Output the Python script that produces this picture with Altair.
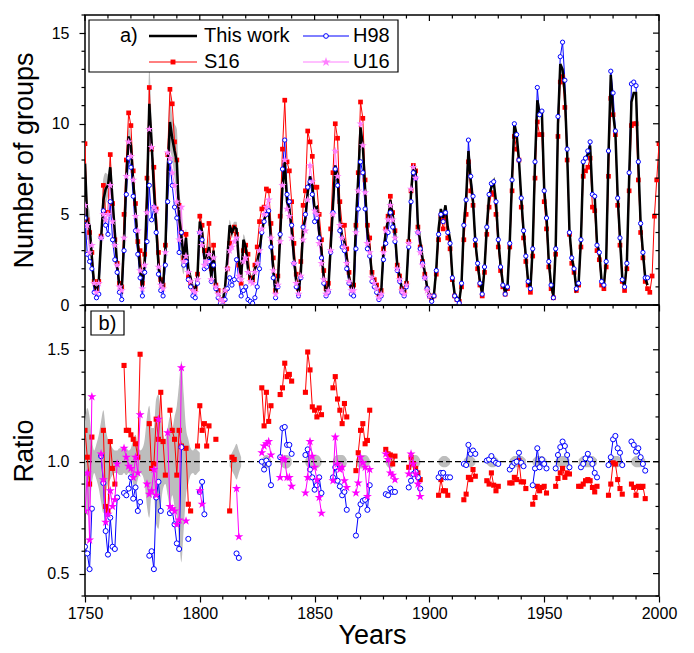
import altair as alt
import pandas as pd

FONT = "Liberation Sans"
W, H1, H2 = 574, 290, 291

# ---------------- data (annual values) ----------------
# "This work" group numbers, 1750-1995
tw_vals = [
    7.8, 4.6, 4.4, 2.6, 1.1, 0.8, 1.3, 3.6, 5.8, 6.4,
    6.6, 7.6, 5.8, 4.0, 2.2, 1.0, 0.8, 3.5, 7.0, 9.3,
    8.8, 6.8, 5.2, 3.4, 2.0, 1.0, 2.4, 6.0, 11.1, 9.0,
    6.4, 4.4, 2.2, 1.2, 1.0, 3.0, 7.4, 10.1, 9.2, 8.5,
    7.9, 4.8, 3.8, 2.5, 3.7, 2.0, 1.5, 0.9, 0.8, 1.6,
    4.6, 4.0, 2.6, 2.6, 3.2, 1.5, 3.0, 1.0, 0.7, 0.3,
    0.2, 1.0, 2.6, 4.4, 4.0, 4.3, 4.2, 2.4, 1.5, 3.6,
    3.2, 2.0, 1.4, 1.3, 2.0, 2.4, 3.0, 4.0, 4.7, 5.0,
    5.3, 3.6, 2.0, 0.6, 1.2, 3.8, 6.5, 7.9, 5.7, 5.3,
    4.2, 2.6, 1.3, 0.7, 1.8, 4.2, 4.8, 6.2, 7.1, 6.6,
    5.3, 5.4, 4.0, 3.0, 1.5, 0.7, 0.9, 3.2, 5.5, 7.7,
    7.2, 4.6, 3.8, 3.5, 2.6, 1.5, 0.9, 0.9, 4.6, 7.0,
    9.8, 8.8, 6.4, 4.0, 3.0, 1.6, 1.3, 1.0, 0.5, 0.7,
    3.0, 4.0, 4.7, 5.8, 5.0, 4.0, 2.2, 1.6, 0.9, 0.7,
    1.2, 3.6, 6.2, 7.7, 7.4, 4.4, 3.5, 2.6, 1.8, 1.0,
    0.6, 0.3, 0.6, 2.0, 4.2, 5.3, 4.8, 5.5, 4.3, 3.6,
    1.6, 0.6, 0.4, 0.2, 1.2, 4.4, 5.9, 8.5, 6.9, 5.7,
    3.5, 2.3, 1.3, 0.6, 2.0, 4.3, 6.0, 6.5, 6.8, 5.7,
    3.6, 2.2, 1.2, 0.7, 1.0, 3.5, 7.0, 10.0, 9.4, 8.0,
    5.9, 4.1, 2.7, 1.3, 0.9, 3.2, 7.9, 11.3, 10.6, 10.6,
    6.4, 4.9, 2.4, 1.1, 0.5, 3.1, 10.0, 13.3, 13.0, 11.6,
    8.4, 4.1, 2.6, 2.0, 0.9, 1.2, 3.6, 7.9, 8.1, 8.3,
    8.8, 6.1, 6.0, 3.4, 2.9, 1.3, 1.1, 2.5, 8.3, 12.7,
    10.6, 9.5, 6.0, 3.7, 1.5, 1.0, 2.3, 7.0, 11.2, 11.7,
    11.7, 7.8, 4.5, 2.9, 1.5, 1.1,
]
# uncertainty of "This work", 1750-1830
tw_err_vals = [
    1.2, 1.0, 0.8, 0.3, 0.1, 0.1, 0.2, 0.6, 1.2, 0.9,
    0.6, 0.6, 0.4, 0.3, 0.2, 0.1, 0.1, 0.2, 0.4, 0.5,
    0.5, 0.7, 0.6, 0.3, 0.1, 0.1, 0.2, 1.0, 2.0, 1.3,
    0.9, 1.2, 0.7, 0.3, 0.1, 0.3, 1.0, 1.6, 1.2, 1.5,
    1.8, 1.5, 1.6, 0.8, 0.5, 0.2, 0.1, 0.1, 0.1, 0.2,
    0.5, 0.6, 0.5, 0.5, 0.5, 0.4, 0.5, 0.3, 0.2, 0.1,
    0.1, 0.2, 0.3, 0.3, 0.3, 0.3, 0.4, 0.3, 0.2, 0.3,
    0.3, 0.2, 0.1, 0.1, 0.2, 0.2, 0.2, 0.2, 0.2, 0.2,
    0.2,
]
# H98, 1750-1995
h98_vals = [
    4.8, 2.8, 2.4, 2.0, 0.7, 0.4, 0.6, 3.7, 5.2, 4.4,
    3.9, 5.7, 3.6, 2.5, 1.8, 0.7, 0.3, 3.0, 6.1, 8.1,
    7.6, 6.0, 4.1, 2.8, 1.5, 0.5, 1.8, 3.5, 6.6, 4.7,
    5.4, 4.0, 1.7, 0.8, 0.5, 2.2, 5.7, 7.9, 6.6, 5.4,
    4.8, 2.9, 4.0, 2.2, 2.4, 1.4, 1.0, 0.5, 0.4, 1.2,
    4.0, 3.6, 2.0, 2.1, 2.4, 1.3, 2.2, 0.9, 0.4, 0.1,
    0.0, 0.3, 0.9, 1.5, 1.1, 1.4, 2.5, 1.4, 0.5, 0.8,
    1.0, 0.3, 0.2, 0.1, 0.4, 1.0, 2.0, 4.0, 4.6, 5.0,
    5.2, 3.2, 1.5, 0.4, 1.0, 3.9, 7.5, 9.1, 6.1, 5.7,
    4.4, 2.3, 1.0, 0.5, 1.5, 4.3, 5.0, 6.5, 6.8, 6.1,
    4.6, 4.8, 3.7, 2.6, 1.2, 0.5, 0.7, 2.9, 5.1, 7.5,
    6.6, 4.1, 3.2, 3.0, 2.0, 1.2, 0.6, 0.5, 3.1, 5.3,
    7.9, 7.3, 5.3, 3.1, 2.7, 1.3, 1.0, 0.7, 0.3, 0.5,
    2.5, 3.4, 4.0, 5.1, 4.3, 3.5, 1.9, 1.3, 0.7, 0.5,
    1.0, 3.2, 5.7, 7.3, 7.0, 4.0, 3.1, 2.3, 1.5, 0.9,
    0.5, 0.2, 0.5, 1.9, 3.9, 5.0, 4.6, 5.1, 4.0, 3.4,
    1.5, 0.5, 0.3, 0.1, 1.2, 4.4, 5.8, 9.1, 7.1, 6.0,
    3.6, 2.3, 1.2, 0.6, 2.1, 4.3, 6.1, 6.7, 6.8, 5.7,
    3.6, 2.1, 1.1, 0.6, 1.0, 3.4, 6.9, 10.0, 9.4, 8.0,
    5.9, 4.1, 2.7, 1.3, 0.9, 3.1, 7.9, 12.0, 10.5, 10.7,
    6.3, 4.8, 2.4, 1.1, 0.4, 3.1, 10.4, 13.7, 14.5, 12.4,
    8.6, 4.0, 2.6, 2.0, 0.9, 1.2, 3.6, 7.9, 8.1, 8.5,
    9.0, 6.1, 6.0, 3.3, 2.9, 1.3, 1.1, 2.4, 8.5, 12.9,
    11.7, 9.6, 5.9, 3.7, 1.4, 1.0, 2.3, 7.3, 12.2, 12.3,
    12.1, 7.9, 4.5, 2.9, 1.5, 1.5,
]
# S16, 1750-2000
s16_vals = [
    8.9, 4.7, 4.0, 2.9, 1.3, 0.9, 1.3, 3.8, 6.6, 5.1,
    5.1, 8.3, 5.6, 3.6, 2.3, 1.2, 1.0, 5.0, 8.0, 10.6,
    9.9, 7.4, 5.6, 3.5, 3.0, 1.2, 2.8, 7.0, 12.0, 8.6,
    7.6, 5.3, 2.9, 1.4, 1.1, 3.3, 8.3, 11.9, 11.1, 9.0,
    8.0, 5.5, 4.0, 2.6, 3.9, 1.6, 1.2, 0.9, 0.9, 1.7,
    4.9, 4.4, 3.0, 3.0, 4.5, 2.0, 3.3, 1.1, 0.8, 0.3,
    0.2, 0.8, 2.0, 3.4, 4.1, 4.3, 3.9, 2.2, 1.2, 3.0,
    3.3, 2.8, 1.5, 1.4, 2.2, 3.2, 4.6, 5.3, 5.4, 6.4,
    6.3, 4.5, 2.6, 0.8, 1.6, 4.9, 8.6, 11.3, 7.9, 7.4,
    5.7, 3.4, 1.7, 0.9, 2.4, 5.5, 6.3, 9.6, 9.0, 8.2,
    6.5, 6.5, 5.0, 3.6, 1.9, 0.9, 1.2, 4.2, 7.3, 10.0,
    9.2, 5.7, 4.4, 4.4, 3.1, 1.8, 1.1, 1.1, 4.4, 7.3,
    11.2, 10.3, 6.9, 4.4, 3.7, 1.8, 1.4, 1.1, 0.6, 0.8,
    3.1, 4.2, 4.9, 6.0, 5.1, 4.1, 2.2, 1.6, 0.9, 0.7,
    1.2, 3.5, 6.3, 7.7, 7.4, 4.3, 3.2, 2.4, 1.7, 0.9,
    0.5, 0.3, 0.5, 1.7, 3.6, 4.9, 4.2, 4.8, 3.7, 3.1,
    1.4, 0.5, 0.3, 0.2, 1.0, 3.6, 5.0, 7.9, 6.3, 5.5,
    3.3, 2.0, 1.1, 0.5, 1.8, 3.9, 5.4, 6.2, 6.1, 5.0,
    3.2, 1.9, 1.0, 0.6, 0.9, 3.2, 6.3, 9.3, 8.6, 8.0,
    5.4, 3.7, 2.4, 1.1, 0.7, 2.7, 7.0, 10.1, 9.4, 9.4,
    5.7, 4.2, 2.1, 0.9, 0.4, 2.8, 9.3, 12.3, 12.6, 10.9,
    8.0, 3.9, 2.3, 1.8, 0.8, 1.1, 3.2, 7.1, 7.4, 7.6,
    8.1, 5.4, 5.2, 3.0, 2.5, 1.1, 0.9, 2.1, 7.1, 11.4,
    10.5, 9.4, 5.5, 3.3, 1.3, 0.8, 2.0, 6.3, 9.9, 10.0,
    10.0, 6.9, 4.0, 2.6, 1.3, 0.9, 0.7, 1.6, 4.9, 6.9,
    8.9,
]
# U16, 1750-1900
u16_vals = [
    5.5, 4.4, 2.9, 3.3, 1.2, 0.7, 1.2, 3.7, 5.0, 4.7,
    5.0, 6.6, 4.6, 3.3, 2.2, 1.0, 0.8, 3.7, 7.1, 9.0,
    8.2, 6.9, 4.9, 4.1, 1.9, 0.9, 2.2, 5.1, 9.7, 8.7,
    5.4, 5.2, 2.1, 1.1, 0.9, 2.9, 8.4, 8.1, 7.3, 6.6,
    5.7, 3.6, 5.4, 2.4, 2.7, 1.8, 1.3, 0.8, 0.7, 1.4,
    4.0, 3.3, 2.2, 2.4, 2.8, 1.4, 2.6, 1.0, 0.6, 0.3,
    0.2, 0.8, 2.0, 3.0, 3.2, 3.5, 3.7, 1.6, 1.4, 2.4,
    2.6, 1.8, 1.3, 1.2, 1.8, 2.3, 3.0, 4.2, 5.0, 5.4,
    5.8, 3.7, 1.9, 0.6, 1.1, 3.5, 6.6, 8.0, 5.3, 4.9,
    3.7, 2.3, 1.2, 0.6, 1.6, 3.6, 4.1, 5.8, 7.7, 6.8,
    5.2, 5.0, 3.4, 2.3, 1.4, 0.6, 0.8, 3.0, 5.0, 8.5,
    7.1, 4.4, 3.7, 3.2, 2.3, 1.3, 0.8, 0.8, 4.0, 6.3,
    10.0, 8.8, 6.2, 3.4, 2.9, 1.5, 1.2, 0.9, 0.4, 0.6,
    2.9, 4.1, 4.7, 5.5, 4.7, 3.7, 2.0, 1.4, 0.8, 0.6,
    1.1, 3.4, 6.4, 7.6, 7.0, 4.0, 2.9, 2.2, 1.5, 0.8,
    0.5,
]

# Ratios to "This work" (first year of each run of consecutive years -> values)
ratio_s16 = {
    1750: [1.14, 1.02, 0.90, 1.11],
    1758: [1.14, 0.80, 0.78, 1.09, 0.97, 0.90],
    1767: [1.43, 1.14, 1.14, 1.12, 1.10, 1.08, 1.02, 1.48],
    1778: [1.17, 0.97, 0.99, 1.19, 1.10, 1.31, 1.09, 0.94],
    1787: [1.23, 1.14, 1.10, 0.94, 1.14, 1.07],
    1794: [1.06, 0.81, 0.78],
    1799: [1.07, 1.25, 1.14, 1.17, 1.07, 1.16],
    1807: [1.10],
    1813: [0.78, 1.02, 1.01],
    1827: [1.33, 1.16, 1.31, 1.18, 1.25],
    1835: [1.30, 1.33, 1.44, 1.38, 1.39, 1.36],
    1846: [1.31, 1.49, 1.41, 1.245, 1.23, 1.20, 1.24, 1.21],
    1858: [1.33, 1.38, 1.28, 1.23, 1.17, 1.26, 1.20],
    1868: [0.96, 1.04, 1.14, 1.17, 1.08, 1.095, 1.23],
    1881: [1.055, 1.035, 1.03, 0.99, 1.025],
    1891: [0.975, 1.02, 0.99, 0.97, 0.95, 0.92],
    1904: [0.85, 0.92, 0.87, 0.87, 0.85],
    1915: [0.83, 0.855, 0.93, 0.92, 0.965, 0.935],
    1925: [0.915, 0.90, 0.95, 0.895, 0.87, 0.89],
    1935: [0.905, 0.905, 0.93, 0.92, 1.005, 0.91, 0.91, 0.88],
    1945: [0.81, 0.84, 0.89, 0.87, 0.885, 0.89, 0.86],
    1955: [0.89, 0.925, 0.95, 0.97, 0.93, 0.95, 0.945],
    1965: [0.89, 0.89, 0.90, 0.915, 0.92, 0.915, 0.885, 0.865, 0.89],
    1978: [0.85, 0.90, 0.995, 0.99, 0.92, 0.88, 0.855],
    1988: [0.90, 0.885, 0.85, 0.89, 0.885, 0.89, 0.835],
}
ratio_h98 = {
    1750: [0.62, 0.59, 0.52, 0.79],
    1757: [1.025, 0.905, 0.69, 0.585, 0.75, 0.62, 0.61, 0.84],
    1767: [0.86, 0.85, 0.88, 0.93, 0.835, 0.885, 0.78, 0.82],
    1778: [0.58, 0.60, 0.52, 0.84, 0.91, 0.78],
    1787: [0.77, 0.78, 0.72, 0.635, 0.61, 1.065],
    1795: [0.655],
    1800: [0.865, 0.91, 0.765],
    1816: [0.59, 0.57],
    1827: [1.0, 0.965, 1.005, 0.99, 0.895],
    1835: [1.02, 1.15, 1.155, 1.075, 1.075, 1.035],
    1846: [1.03, 1.055, 0.965, 0.93, 0.875, 0.895, 0.93, 0.86],
    1858: [0.93, 0.975, 0.915, 0.89, 0.85, 0.865, 0.785],
    1868: [0.67, 0.76, 0.81, 0.825, 0.83, 0.785, 0.895],
    1881: [0.855, 0.85, 0.88, 0.865, 0.865],
    1891: [0.885, 0.915, 0.945, 0.955, 0.93, 0.88],
    1904: [0.93, 0.95, 0.95, 0.93, 0.93, 0.93],
    1915: [0.99, 0.985, 1.075, 1.035, 1.05, 1.035],
    1925: [1.005, 1.01, 1.025, 1.005, 0.995, 0.99],
    1935: [0.965, 0.98, 0.995, 1.0, 1.04, 0.995, 0.98],
    1945: [0.895, 0.97, 1.06, 0.975, 1.01, 0.99, 0.97],
    1955: [0.97, 1.03, 1.065, 1.09, 1.07, 1.03, 0.975],
    1966: [0.975, 0.99, 1.015, 1.035, 1.01, 0.99, 0.95, 0.93],
    1978: [0.985, 1.02, 1.10, 1.115, 1.06, 1.04, 0.985],
    1988: [1.09, 1.075, 1.045, 1.06, 1.02, 0.99, 0.96],
}
ratio_u16 = {
    1750: [0.78, 0.95, 0.65, 1.29],
    1757: [1.035, 0.92, 0.73, 0.765, 0.87, 0.80, 0.83, 0.99],
    1767: [1.06, 1.02, 0.98, 0.97, 0.93, 1.02, 0.95, 1.21],
    1777: [0.90, 0.855, 0.87, 0.965, 0.85, 1.19],
    1786: [1.13, 0.80, 0.79, 0.78, 0.72, 0.74, 1.42],
    1794: [0.735],
    1800: [0.87, 0.81],
    1816: [0.88, 0.665],
    1827: [1.04, 1.07, 1.08, 1.09, 1.03],
    1835: [0.93, 1.015, 1.01, 0.93, 0.93, 0.89],
    1846: [0.86, 0.93, 1.09, 1.025, 0.975, 0.92, 0.84, 0.77],
    1858: [0.915, 1.11, 0.99, 0.965, 0.975, 0.915, 0.885],
    1868: [0.86, 0.905, 1.02, 0.995, 0.975, 0.845, 0.965],
    1881: [1.035, 1.01, 0.95, 0.94, 0.92],
    1891: [0.945, 1.035, 0.99, 0.945, 0.90, 0.845],
}
# half-width of the relative uncertainty band around 1
ratio_band = {
    1750: [0.18, 0.24, 0.20, 0.10, 0.05, 0.08, 0.12, 0.18, 0.23, 0.15,
           0.10, 0.08, 0.06, 0.05, 0.05, 0.06, 0.06, 0.05, 0.06, 0.05,
           0.06, 0.10, 0.12, 0.08, 0.05, 0.06, 0.10, 0.20, 0.25, 0.15,
           0.15, 0.28, 0.30, 0.20, 0.12, 0.10, 0.15, 0.20, 0.15, 0.20,
           0.25, 0.35, 0.45, 0.30, 0.15, 0.10, 0.06, 0.05, 0.06, 0.05,
           0.04],
    1813: [0.02, 0.04, 0.06, 0.08, 0.05, 0.02],
    1827: [0.01, 0.025, 0.03, 0.025, 0.01],
    1835: [0.01, 0.025, 0.03, 0.03, 0.025, 0.01],
    1846: [0.01, 0.025, 0.03, 0.03, 0.03, 0.03, 0.025, 0.01],
    1858: [0.01, 0.025, 0.03, 0.03, 0.03, 0.025, 0.01],
    1868: [0.01, 0.025, 0.03, 0.03, 0.03, 0.025, 0.01],
    1881: [0.01, 0.025, 0.03, 0.025, 0.01],
    1891: [0.01, 0.025, 0.03, 0.03, 0.025, 0.01],
    1904: [0.01, 0.02, 0.025, 0.025, 0.02, 0.01],
    1915: [0.01, 0.02, 0.025, 0.025, 0.02, 0.01],
    1925: [0.01, 0.02, 0.025, 0.025, 0.02, 0.01],
    1935: [0.01, 0.02, 0.025, 0.025, 0.025, 0.025, 0.02, 0.01],
    1945: [0.01, 0.02, 0.025, 0.025, 0.025, 0.02, 0.01],
    1955: [0.01, 0.02, 0.025, 0.025, 0.025, 0.02, 0.01],
    1965: [0.01, 0.02, 0.025, 0.025, 0.025, 0.025, 0.025, 0.02, 0.01],
    1978: [0.01, 0.02, 0.025, 0.025, 0.025, 0.02, 0.01],
    1988: [0.01, 0.02, 0.025, 0.025, 0.025, 0.02, 0.01],
}

STAR = ("M0,-1L0.2245,-0.309L0.951,-0.309L0.363,0.118L0.588,0.809L0,0.382"
        "L-0.588,0.809L-0.363,0.118L-0.951,-0.309L-0.2245,-0.309Z")


def series(start, vals):
    return pd.DataFrame({"year": [start + i for i in range(len(vals))], "val": vals})


def runs(d):
    rows = []
    for seg, (start, vals) in enumerate(d.items()):
        for i, v in enumerate(vals):
            rows.append({"year": start + i, "val": v, "seg": seg})
    return pd.DataFrame(rows)


df_tw = series(1750, tw_vals)
df_h98 = series(1750, h98_vals)
df_s16 = series(1750, s16_vals)
df_u16 = series(1750, u16_vals)
df_err = series(1750, tw_err_vals)
df_err["lo"] = [df_tw["val"][i] - e for i, e in enumerate(tw_err_vals)]
df_err["hi"] = [df_tw["val"][i] + e for i, e in enumerate(tw_err_vals)]

df_rs = runs(ratio_s16)
df_rh = runs(ratio_h98)
df_ru = runs(ratio_u16)
df_rb = runs(ratio_band)
df_rb["lo"] = 1 - df_rb["val"]
df_rb["hi"] = 1 + df_rb["val"]

# tick positions
x_major = list(range(1750, 2001, 50))
x_minor = [v for v in range(1750, 2001, 10) if v % 50]
y1_major = [0, 5, 10, 15]
y1_minor = [v for v in range(0, 17) if v % 5]
y2_major = [0.5, 1.0, 1.5]
y2_minor = [0.4, 0.6, 0.7, 0.8, 0.9, 1.1, 1.2, 1.3, 1.4, 1.6, 1.7]
one = pd.DataFrame({"a": [0]})

# ---------------- scales / axes ----------------
xs = alt.Scale(domain=[1750, 2000], nice=False, zero=False)
ys1 = alt.Scale(domain=[0, 16], nice=False)
ys2 = alt.Scale(domain=[0.4, 1.7], nice=False)

MAJ, MIN = 6, 3.5
xax1 = alt.Axis(values=x_major, labels=False, title=None, grid=False, domain=False,
                tickSize=MAJ, tickWidth=1.2)
xax2 = alt.Axis(values=x_major, format="d", labelFlush=False, labelOverlap=False,
                title="Years", grid=False, domain=False, tickSize=MAJ, tickWidth=1.2,
                labelPadding=3, titlePadding=1, labelFontSize=16, titleFontSize=27)
yax1 = alt.Axis(values=y1_major, format="d", labelFlush=False, labelOverlap=False,
                title="Number of groups", grid=False, domain=False,
                tickSize=MAJ, tickWidth=1.2, labelPadding=10, titlePadding=7,
                minExtent=40, maxExtent=40, labelFontSize=16, titleFontSize=27)
yax2 = alt.Axis(values=y2_major, format=".1f", labelFlush=False, labelOverlap=False,
                title="Ratio", grid=False, domain=False,
                tickSize=MAJ, tickWidth=1.2, labelPadding=10, titlePadding=7,
                minExtent=40, maxExtent=40, labelFontSize=16, titleFontSize=27)

X1 = alt.X("year:Q", scale=xs, axis=xax1)
Y1 = alt.Y("val:Q", scale=ys1, axis=yax1)
X2 = alt.X("year:Q", scale=xs, axis=xax2)
Y2 = alt.Y("val:Q", scale=ys2, axis=yax2)

PINK = "#FF80FF"
MAG = "#FF00FF"


def frame_ticks(yscale, yaxis, xaxis, h, ymaj, ymin, top_inward=True):
    """Minor ticks outside on left/bottom, mirrored ticks inside on top/right."""
    lay = []
    dfx_maj = pd.DataFrame({"t": x_major})
    dfx_min = pd.DataFrame({"t": x_minor})
    dfy_maj = pd.DataFrame({"t": ymaj})
    dfy_min = pd.DataFrame({"t": ymin})
    rule = dict(color="black", strokeWidth=1.2)
    lay.append(alt.Chart(dfx_min).mark_rule(**rule).encode(
        x=alt.X("t:Q", scale=xs, axis=xaxis), y=alt.value(h), y2=alt.value(h + MIN)))
    lay.append(alt.Chart(dfy_min).mark_rule(**rule).encode(
        y=alt.Y("t:Q", scale=yscale, axis=yaxis), x=alt.value(0), x2=alt.value(-MIN)))
    for df, ln in ((dfy_maj, MAJ), (dfy_min, MIN)):
        lay.append(alt.Chart(df).mark_rule(**rule).encode(
            y=alt.Y("t:Q", scale=yscale, axis=yaxis), x=alt.value(W), x2=alt.value(W - ln)))
    if top_inward:
        for df, ln in ((dfx_maj, MAJ), (dfx_min, MIN)):
            lay.append(alt.Chart(df).mark_rule(**rule).encode(
                x=alt.X("t:Q", scale=xs, axis=xaxis), y=alt.value(0), y2=alt.value(ln)))
    return lay


# ---------------- top panel ----------------
band1 = alt.Chart(df_err).mark_area(color="#BDBDBD", interpolate="monotone", clip=True).encode(
    x=X1, y=alt.Y("lo:Q", scale=ys1, axis=yax1), y2="hi:Q")
u_line = alt.Chart(df_u16).mark_line(color=PINK, strokeWidth=1, clip=True).encode(x=X1, y=Y1)
u_pts = alt.Chart(df_u16).mark_point(shape=STAR, filled=True, color=PINK, size=72,
                                     opacity=1, clip=True).encode(x=X1, y=Y1)
s_line = alt.Chart(df_s16).mark_line(color="#FF0000", strokeWidth=1, clip=True).encode(x=X1, y=Y1)
s_pts = alt.Chart(df_s16).mark_point(shape="square", filled=True, color="#FF0000", size=22,
                                     opacity=1, clip=True).encode(x=X1, y=Y1)
t_line = alt.Chart(df_tw).mark_line(color="black", strokeWidth=2.5, clip=True).encode(x=X1, y=Y1)
h_line = alt.Chart(df_h98).mark_line(color="#0000FF", strokeWidth=1, clip=True).encode(x=X1, y=Y1)
h_pts = alt.Chart(df_h98).mark_point(shape="circle", filled=True, fill="white", stroke="#0000FF",
                                     strokeWidth=1, size=18, opacity=1, clip=True).encode(x=X1, y=Y1)

ticks1 = frame_ticks(ys1, yax1, xax1, H1, y1_major, y1_minor, top_inward=True)

LF = 20
leg = [
    alt.Chart(one).mark_rect(fill="white", stroke="black", strokeWidth=1.2).encode(
        x=alt.value(4), x2=alt.value(313), y=alt.value(5), y2=alt.value(57)),
    alt.Chart(one).mark_text(text="a)", align="left", baseline="middle", font=FONT,
                             fontSize=LF, color="black").encode(x=alt.value(35), y=alt.value(21)),
    alt.Chart(one).mark_rule(color="black", strokeWidth=2.5).encode(
        x=alt.value(64), x2=alt.value(112), y=alt.value(21)),
    alt.Chart(one).mark_text(text="This work", align="left", baseline="middle", font=FONT,
                             fontSize=LF, color="black").encode(x=alt.value(119), y=alt.value(21)),
    alt.Chart(one).mark_rule(color="#0000FF", strokeWidth=1).encode(
        x=alt.value(218), x2=alt.value(264), y=alt.value(21)),
    alt.Chart(one).mark_point(shape="circle", filled=True, fill="white", stroke="#0000FF",
                              strokeWidth=1, size=22, opacity=1).encode(x=alt.value(241), y=alt.value(21)),
    alt.Chart(one).mark_text(text="H98", align="left", baseline="middle", font=FONT,
                             fontSize=LF, color="black").encode(x=alt.value(268), y=alt.value(21)),
    alt.Chart(one).mark_rule(color="#FF0000", strokeWidth=1).encode(
        x=alt.value(64), x2=alt.value(112), y=alt.value(47)),
    alt.Chart(one).mark_point(shape="square", filled=True, color="#FF0000", size=24,
                              opacity=1).encode(x=alt.value(88), y=alt.value(47)),
    alt.Chart(one).mark_text(text="S16", align="left", baseline="middle", font=FONT,
                             fontSize=LF, color="black").encode(x=alt.value(119), y=alt.value(47)),
    alt.Chart(one).mark_rule(color=PINK, strokeWidth=1).encode(
        x=alt.value(218), x2=alt.value(264), y=alt.value(47)),
    alt.Chart(one).mark_point(shape=STAR, filled=True, color=PINK, size=100,
                              opacity=1).encode(x=alt.value(241), y=alt.value(47)),
    alt.Chart(one).mark_text(text="U16", align="left", baseline="middle", font=FONT,
                             fontSize=LF, color="black").encode(x=alt.value(268), y=alt.value(47)),
]

top = alt.layer(band1, h_line, s_line, u_line, s_pts, t_line, h_pts, u_pts,
                *ticks1, *leg).properties(width=W, height=H1)

# ---------------- bottom panel ----------------
band2 = alt.Chart(df_rb).mark_area(color="#BDBDBD", interpolate="monotone", clip=True).encode(
    x=X2, y=alt.Y("lo:Q", scale=ys2, axis=yax2), y2="hi:Q", detail="seg:N")
unity = alt.Chart(pd.DataFrame({"v": [1.0]})).mark_rule(
    color="black", strokeWidth=1.2, strokeDash=[6, 3]).encode(
    y=alt.Y("v:Q", scale=ys2, axis=yax2))
rs_line = alt.Chart(df_rs).mark_line(color="#FF0000", strokeWidth=1, clip=True).encode(
    x=X2, y=Y2, detail="seg:N")
rs_pts = alt.Chart(df_rs).mark_point(shape="square", filled=True, color="#FF0000", size=26,
                                     opacity=1, clip=True).encode(x=X2, y=Y2)
rh_line = alt.Chart(df_rh).mark_line(color="#0000FF", strokeWidth=1, clip=True).encode(
    x=X2, y=Y2, detail="seg:N")
rh_pts = alt.Chart(df_rh).mark_point(shape="circle", filled=True, fill="white", stroke="#0000FF",
                                     strokeWidth=1, size=26, opacity=1, clip=True).encode(x=X2, y=Y2)
ru_line = alt.Chart(df_ru).mark_line(color=MAG, strokeWidth=1, clip=True).encode(
    x=X2, y=Y2, detail="seg:N")
ru_pts = alt.Chart(df_ru).mark_point(shape=STAR, filled=True, color=MAG, size=90,
                                     opacity=1, clip=True).encode(x=X2, y=Y2)

ticks2 = frame_ticks(ys2, yax2, xax2, H2, y2_major, y2_minor, top_inward=False)

blab = [
    alt.Chart(one).mark_rect(fill="white", stroke="black", strokeWidth=1.2).encode(
        x=alt.value(6), x2=alt.value(39), y=alt.value(6), y2=alt.value(30)),
    alt.Chart(one).mark_text(text="b)", align="center", baseline="middle", font=FONT,
                             fontSize=LF, color="black").encode(x=alt.value(22.5), y=alt.value(19)),
]

bot = alt.layer(band2, unity, rs_line, rs_pts, rh_line, rh_pts, ru_line, ru_pts,
                *ticks2, *blab).properties(width=W, height=H2)

chart = alt.vconcat(top, bot, spacing=0, bounds="flush").properties(
    padding={"left": 1, "top": 5, "right": 5, "bottom": 2}
).configure_view(stroke="black", strokeWidth=1.5).configure_axis(
    labelFont=FONT, titleFont=FONT, labelColor="black", titleColor="black",
    titleFontWeight="normal", tickColor="black", grid=False)

chart.save("out.html", embed_options={"renderer": "svg", "actions": False})
